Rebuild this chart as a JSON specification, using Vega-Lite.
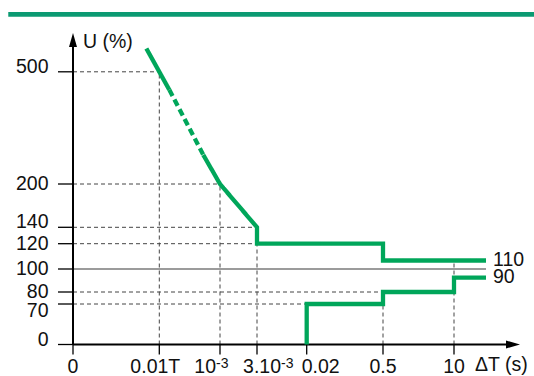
{
  "$schema": "https://vega.github.io/schema/vega-lite/v6.json",
  "width": 534,
  "height": 376,
  "autosize": {"type": "none"},
  "padding": 0,
  "background": "white",
  "config": {
    "view": {"stroke": null},
    "axis": {"disable": true},
    "text": {"font": "Liberation Sans", "fontSize": 19.5, "color": "#111111"}
  },
  "datasets": {
    "green": [
      {"seg": "a", "style": "solid", "i": 1, "t": 0.00017, "U": 560},
      {"seg": "a", "style": "solid", "i": 2, "t": 0.000332, "U": 451.8},
      {"seg": "b", "style": "dashed", "i": 1, "t": 0.000332, "U": 451.8},
      {"seg": "b", "style": "dashed", "i": 2, "t": 0.00078, "U": 277.7},
      {"seg": "c", "style": "solid", "i": 1, "t": 0.00078, "U": 277.7},
      {"seg": "c", "style": "solid", "i": 2, "t": 0.001, "U": 200},
      {"seg": "c", "style": "solid", "i": 3, "t": 0.003, "U": 140},
      {"seg": "c", "style": "solid", "i": 4, "t": 0.003, "U": 120},
      {"seg": "c", "style": "solid", "i": 5, "t": 0.5, "U": 120},
      {"seg": "c", "style": "solid", "i": 6, "t": 0.5, "U": 110},
      {"seg": "c", "style": "solid", "i": 7, "t": 50, "U": 110},
      {"seg": "d", "style": "solid", "i": 1, "t": 0.02, "U": 0},
      {"seg": "d", "style": "solid", "i": 2, "t": 0.02, "U": 70},
      {"seg": "d", "style": "solid", "i": 3, "t": 0.5, "U": 70},
      {"seg": "d", "style": "solid", "i": 4, "t": 0.5, "U": 80},
      {"seg": "d", "style": "solid", "i": 5, "t": 10, "U": 80},
      {"seg": "d", "style": "solid", "i": 6, "t": 10, "U": 90},
      {"seg": "d", "style": "solid", "i": 7, "t": 50, "U": 90}
    ],
    "guides": [
      {"kind": "dash", "t": 0, "t2": 0.0002, "U": 500, "U2": 500},
      {"kind": "dash", "t": 0, "t2": 0.001, "U": 200, "U2": 200},
      {"kind": "dash", "t": 0, "t2": 0.003, "U": 140, "U2": 140},
      {"kind": "dash", "t": 0, "t2": 0.003, "U": 120, "U2": 120},
      {"kind": "dash", "t": 0, "t2": 0.5, "U": 80, "U2": 80},
      {"kind": "dash", "t": 0, "t2": 0.02, "U": 70, "U2": 70},
      {"kind": "dash", "t": 0.0002, "t2": 0.0002, "U": 0, "U2": 500},
      {"kind": "dash", "t": 0.001, "t2": 0.001, "U": 0, "U2": 200},
      {"kind": "dash", "t": 0.003, "t2": 0.003, "U": 0, "U2": 120},
      {"kind": "dash", "t": 0.5, "t2": 0.5, "U": 0, "U2": 70},
      {"kind": "dash", "t": 10, "t2": 10, "U": 0, "U2": 110},
      {"kind": "solid", "t": 0, "t2": 50, "U": 100, "U2": 100}
    ],
    "axes": [
      {"t": 0, "t2": 0, "U": 0, "U2": 585},
      {"t": 0, "t2": 92, "U": 0, "U2": 0}
    ],
    "arrows": [
      {"dir": "up", "t": 0, "U": 600},
      {"dir": "right", "t": 100, "U": 0}
    ],
    "yticks": [
      {"t": 0, "U": 500}, {"t": 0, "U": 200}, {"t": 0, "U": 140}, {"t": 0, "U": 120},
      {"t": 0, "U": 100}, {"t": 0, "U": 80}, {"t": 0, "U": 70}, {"t": 0, "U": 0}
    ],
    "xlabels": [
      {"U": 0, "t": 0, "label": "0"},
      {"U": 0, "t": 0.0002, "label": "0.01T"},
      {"U": 0, "t": 0.001, "label": "10", "sup": "-3"},
      {"U": 0, "t": 0.003, "label": "3.10", "sup": "-3"},
      {"U": 0, "t": 0.02, "label": "0.02"},
      {"U": 0, "t": 0.5, "label": "0.5"},
      {"U": 0, "t": 10, "label": "10"}
    ],
    "endlabels": [
      {"t": 50, "U": 110, "label": "110"},
      {"t": 50, "U": 90, "label": "90"}
    ],
    "titles": [
      {"t": 0, "U": 600, "label": "U (%)"},
      {"t": 50, "U": 0, "label": "ΔT (s)"}
    ],
    "band": [
      {"t": -0.00015, "t2": 200, "U": 648}
    ]
  },
  "encoding": {
    "x": {
      "field": "t",
      "type": "quantitative",
      "scale": {
        "domain": [0, 0.0002, 0.001, 0.003, 0.02, 0.5, 10, 50, 100],
        "range": [73, 159.3, 220, 257, 306.7, 383, 454, 486, 520],
        "nice": false,
        "zero": false
      },
      "axis": null
    },
    "y": {
      "field": "U",
      "type": "quantitative",
      "scale": {
        "domain": [0, 70, 80, 90, 100, 110, 120, 140, 200, 500, 600],
        "range": [344.5, 304, 292, 277.7, 269, 260.5, 243.7, 227.3, 184, 71.8, 33],
        "nice": false,
        "zero": false
      },
      "axis": null
    }
  },
  "layer": [
    {
      "data": {"name": "band"},
      "mark": {"type": "rule", "color": "#0b9a72", "strokeWidth": 4.7},
      "encoding": {"x2": {"field": "t2"}}
    },
    {
      "data": {"name": "guides"},
      "transform": [{"filter": "datum.kind == 'dash'"}],
      "mark": {"type": "rule", "color": "#444444", "strokeWidth": 1, "strokeDash": [4, 3]},
      "encoding": {"x2": {"field": "t2"}, "y2": {"field": "U2"}}
    },
    {
      "data": {"name": "guides"},
      "transform": [{"filter": "datum.kind == 'solid'"}],
      "mark": {"type": "rule", "color": "#7a7a7a", "strokeWidth": 1.5},
      "encoding": {"x2": {"field": "t2"}, "y2": {"field": "U2"}}
    },
    {
      "data": {"name": "axes"},
      "mark": {"type": "rule", "color": "#000000", "strokeWidth": 2},
      "encoding": {"x2": {"field": "t2"}, "y2": {"field": "U2"}}
    },
    {
      "data": {"name": "arrows"},
      "mark": {"type": "point", "filled": true, "color": "#000000", "opacity": 1, "size": 196, "strokeWidth": 0},
      "encoding": {
        "shape": {
          "field": "dir",
          "type": "nominal",
          "scale": {"domain": ["up", "right"], "range": ["M0,0L0.57,2L-0.57,2Z", "M0,0L-2,-0.57L-2,0.57Z"]},
          "legend": null
        }
      }
    },
    {
      "data": {"name": "yticks"},
      "mark": {"type": "rule", "color": "#000000", "strokeWidth": 1.3, "xOffset": -15},
      "encoding": {"x2": {"field": "t"}}
    },
    {
      "data": {"name": "xlabels"},
      "mark": {"type": "rule", "color": "#000000", "strokeWidth": 1.3, "y2Offset": 10},
      "encoding": {"y2": {"field": "U"}}
    },
    {
      "data": {"name": "green"},
      "mark": {"type": "line", "color": "#00a65a", "strokeWidth": 4.3, "strokeJoin": "miter", "strokeCap": "butt"},
      "encoding": {
        "order": {"field": "i", "type": "quantitative"},
        "detail": {"field": "seg", "type": "nominal"},
        "strokeDash": {
          "field": "style",
          "type": "nominal",
          "scale": {"domain": ["solid", "dashed"], "range": [[1, 0], [7, 4]]},
          "legend": null
        }
      }
    },
    {
      "data": {"name": "yticks"},
      "transform": [{"filter": {"field": "U", "oneOf": [500, 140, 0]}}],
      "mark": {"type": "text", "align": "right", "baseline": "alphabetic", "dx": -24.5, "dy": 1},
      "encoding": {"text": {"field": "U", "type": "quantitative"}}
    },
    {
      "data": {"name": "yticks"},
      "transform": [{"filter": {"field": "U", "oneOf": [200, 120, 100, 80]}}],
      "mark": {"type": "text", "align": "right", "baseline": "middle", "dx": -24.5},
      "encoding": {"text": {"field": "U", "type": "quantitative"}}
    },
    {
      "data": {"name": "yticks"},
      "transform": [{"filter": {"field": "U", "oneOf": [70]}}],
      "mark": {"type": "text", "align": "right", "baseline": "alphabetic", "dx": -24.5, "dy": 13},
      "encoding": {"text": {"field": "U", "type": "quantitative"}}
    },
    {
      "data": {"name": "xlabels"},
      "transform": [{"filter": {"field": "t", "oneOf": [0, 0.5, 10]}}],
      "mark": {"type": "text", "align": "center", "baseline": "alphabetic", "dy": 28},
      "encoding": {"text": {"field": "label"}}
    },
    {
      "data": {"name": "xlabels"},
      "transform": [{"filter": "datum.t == 0.0002"}],
      "mark": {"type": "text", "align": "center", "baseline": "alphabetic", "dy": 28, "dx": -4},
      "encoding": {"text": {"field": "label"}}
    },
    {
      "data": {"name": "xlabels"},
      "transform": [{"filter": "datum.t == 0.02"}],
      "mark": {"type": "text", "align": "center", "baseline": "alphabetic", "dy": 28, "dx": 14},
      "encoding": {"text": {"field": "label"}}
    },
    {
      "data": {"name": "xlabels"},
      "transform": [{"filter": "datum.t == 0.001"}],
      "mark": {"type": "text", "align": "right", "baseline": "alphabetic", "dy": 28, "dx": -4},
      "encoding": {"text": {"field": "label"}}
    },
    {
      "data": {"name": "xlabels"},
      "transform": [{"filter": "datum.t == 0.001"}],
      "mark": {"type": "text", "align": "left", "baseline": "alphabetic", "dy": 23.5, "dx": -4, "fontSize": 14},
      "encoding": {"text": {"field": "sup"}}
    },
    {
      "data": {"name": "xlabels"},
      "transform": [{"filter": "datum.t == 0.003"}],
      "mark": {"type": "text", "align": "right", "baseline": "alphabetic", "dy": 28, "dx": 24},
      "encoding": {"text": {"field": "label"}}
    },
    {
      "data": {"name": "xlabels"},
      "transform": [{"filter": "datum.t == 0.003"}],
      "mark": {"type": "text", "align": "left", "baseline": "alphabetic", "dy": 23.5, "dx": 24, "fontSize": 14},
      "encoding": {"text": {"field": "sup"}}
    },
    {
      "data": {"name": "endlabels"},
      "mark": {"type": "text", "align": "left", "baseline": "middle", "dx": 7, "dy": -1},
      "encoding": {"text": {"field": "label"}}
    },
    {
      "data": {"name": "titles"},
      "transform": [{"filter": "datum.t == 0"}],
      "mark": {"type": "text", "align": "left", "baseline": "alphabetic", "dx": 10, "dy": 15},
      "encoding": {"text": {"field": "label"}}
    },
    {
      "data": {"name": "titles"},
      "transform": [{"filter": "datum.t == 50"}],
      "mark": {"type": "text", "align": "left", "baseline": "alphabetic", "dx": -11, "dy": 26.5},
      "encoding": {"text": {"field": "label"}}
    }
  ]
}
